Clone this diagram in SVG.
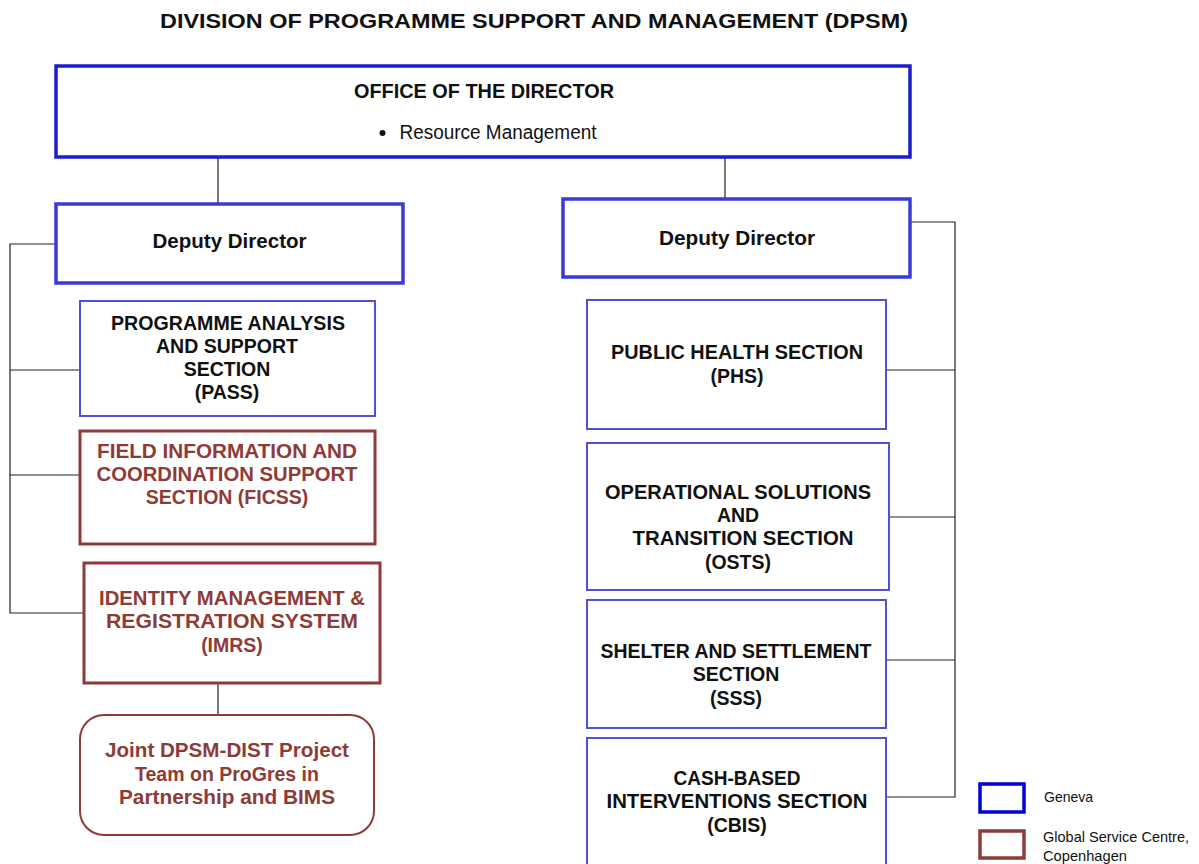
<svg xmlns="http://www.w3.org/2000/svg" width="1199" height="864" viewBox="0 0 1199 864">
<style>
text{font-family:"Liberation Sans",Arial,sans-serif;font-weight:bold;font-size:19.5px;text-anchor:middle;fill:#111}
.br{fill:#8e3b38}
.nw{font-weight:normal}
.bx1{fill:#fff;stroke:#1c1cd0;stroke-width:3.5}
.bx2{fill:#fff;stroke:#3a3ad8;stroke-width:3.5}
.bx3{fill:#fff;stroke:#4f4fd8;stroke-width:2}
.brb{fill:#fff;stroke:#8e3b38;stroke-width:3}
.brr{fill:#fff;stroke:#8e3b38;stroke-width:2}
.c{fill:none;stroke:#222;stroke-width:1.2}
.lg{font-weight:normal;font-size:14.5px;text-anchor:start}
</style>
<rect width="1199" height="864" fill="#fff"/>
<text x="534" y="28" font-size="22" textLength="748" lengthAdjust="spacingAndGlyphs">DIVISION OF PROGRAMME SUPPORT AND MANAGEMENT (DPSM)</text>
<g id="connectors">
<path class="c" d="M218 157V204M725 157V199"/>
<path class="c" d="M56 244H10V613H84M10 370H80M10 475H80"/>
<path class="c" d="M218 683V715"/>
<path class="c" d="M910 222H955V797H886M886 370H955M889 517H955M886 660H955"/>
</g>
<g id="office">
<rect class="bx1" x="56" y="66" width="854" height="91"/>
<text x="484" y="97.5" textLength="260" lengthAdjust="spacingAndGlyphs">OFFICE OF THE DIRECTOR</text>
<circle cx="382.5" cy="133" r="3" fill="#111"/>
<text class="nw" x="498" y="138.5" textLength="197" lengthAdjust="spacingAndGlyphs">Resource Management</text>
</g>
<g id="deputy-left">
<rect class="bx2" x="56" y="204" width="347" height="79"/>
<text x="229.5" y="248.3" textLength="154" lengthAdjust="spacingAndGlyphs">Deputy Director</text>
</g>
<g id="deputy-right">
<rect class="bx2" x="563" y="199" width="347" height="78"/>
<text x="737" y="244.5" textLength="156" lengthAdjust="spacingAndGlyphs">Deputy Director</text>
</g>
<g id="pass">
<rect class="bx3" x="80" y="301" width="295" height="115"/>
<text x="228" y="330" textLength="234" lengthAdjust="spacingAndGlyphs">PROGRAMME ANALYSIS</text>
<text x="227" y="353">AND SUPPORT</text>
<text x="227" y="376">SECTION</text>
<text x="227" y="399">(PASS)</text>
</g>
<g id="ficss">
<rect class="brb" x="80" y="431" width="295" height="113"/>
<text class="br" x="227" y="458" textLength="260" lengthAdjust="spacingAndGlyphs">FIELD INFORMATION AND</text>
<text class="br" x="227" y="481" textLength="261" lengthAdjust="spacingAndGlyphs">COORDINATION SUPPORT</text>
<text class="br" x="227" y="504">SECTION (FICSS)</text>
</g>
<g id="imrs">
<rect class="brb" x="84" y="563" width="296" height="120"/>
<text class="br" x="232" y="605" textLength="266" lengthAdjust="spacingAndGlyphs">IDENTITY MANAGEMENT &amp;</text>
<text class="br" x="232" y="628" textLength="252" lengthAdjust="spacingAndGlyphs">REGISTRATION SYSTEM</text>
<text class="br" x="232" y="652">(IMRS)</text>
</g>
<g id="joint">
<rect class="brr" x="80" y="715" width="294" height="120" rx="24"/>
<text class="br" x="227" y="757" textLength="244" lengthAdjust="spacingAndGlyphs">Joint DPSM-DIST Project</text>
<text class="br" x="227" y="781">Team on ProGres in</text>
<text class="br" x="227" y="804" textLength="216" lengthAdjust="spacingAndGlyphs">Partnership and BIMS</text>
</g>
<g id="phs">
<rect class="bx3" x="587" y="300" width="299" height="129"/>
<text x="737" y="359" textLength="252" lengthAdjust="spacingAndGlyphs">PUBLIC HEALTH SECTION</text>
<text x="737" y="383">(PHS)</text>
</g>
<g id="osts">
<rect class="bx3" x="587" y="443" width="302" height="147"/>
<text x="738" y="499" textLength="266" lengthAdjust="spacingAndGlyphs">OPERATIONAL SOLUTIONS</text>
<text x="738" y="522">AND</text>
<text x="743" y="545" textLength="221" lengthAdjust="spacingAndGlyphs">TRANSITION SECTION</text>
<text x="738" y="569">(OSTS)</text>
</g>
<g id="sss">
<rect class="bx3" x="587" y="600" width="299" height="128"/>
<text x="736" y="658" textLength="271" lengthAdjust="spacingAndGlyphs">SHELTER AND SETTLEMENT</text>
<text x="736" y="681">SECTION</text>
<text x="736" y="705">(SSS)</text>
</g>
<g id="cbis">
<rect class="bx3" x="587" y="738" width="299" height="130"/>
<text x="737" y="785" textLength="127" lengthAdjust="spacingAndGlyphs">CASH-BASED</text>
<text x="737" y="808" textLength="261" lengthAdjust="spacingAndGlyphs">INTERVENTIONS SECTION</text>
<text x="737" y="832">(CBIS)</text>
</g>
<g id="legend">
<rect x="980" y="784" width="44" height="28" fill="#fff" stroke="#0000d8" stroke-width="3.5"/>
<text class="lg" x="1044" y="802" textLength="49" lengthAdjust="spacingAndGlyphs">Geneva</text>
<rect x="980" y="831" width="44" height="27" fill="#fff" stroke="#8e3b38" stroke-width="3.5"/>
<text class="lg" x="1043" y="842" textLength="146" lengthAdjust="spacingAndGlyphs">Global Service Centre,</text>
<text class="lg" x="1043" y="861" textLength="84" lengthAdjust="spacingAndGlyphs">Copenhagen</text>
</g>
</svg>
